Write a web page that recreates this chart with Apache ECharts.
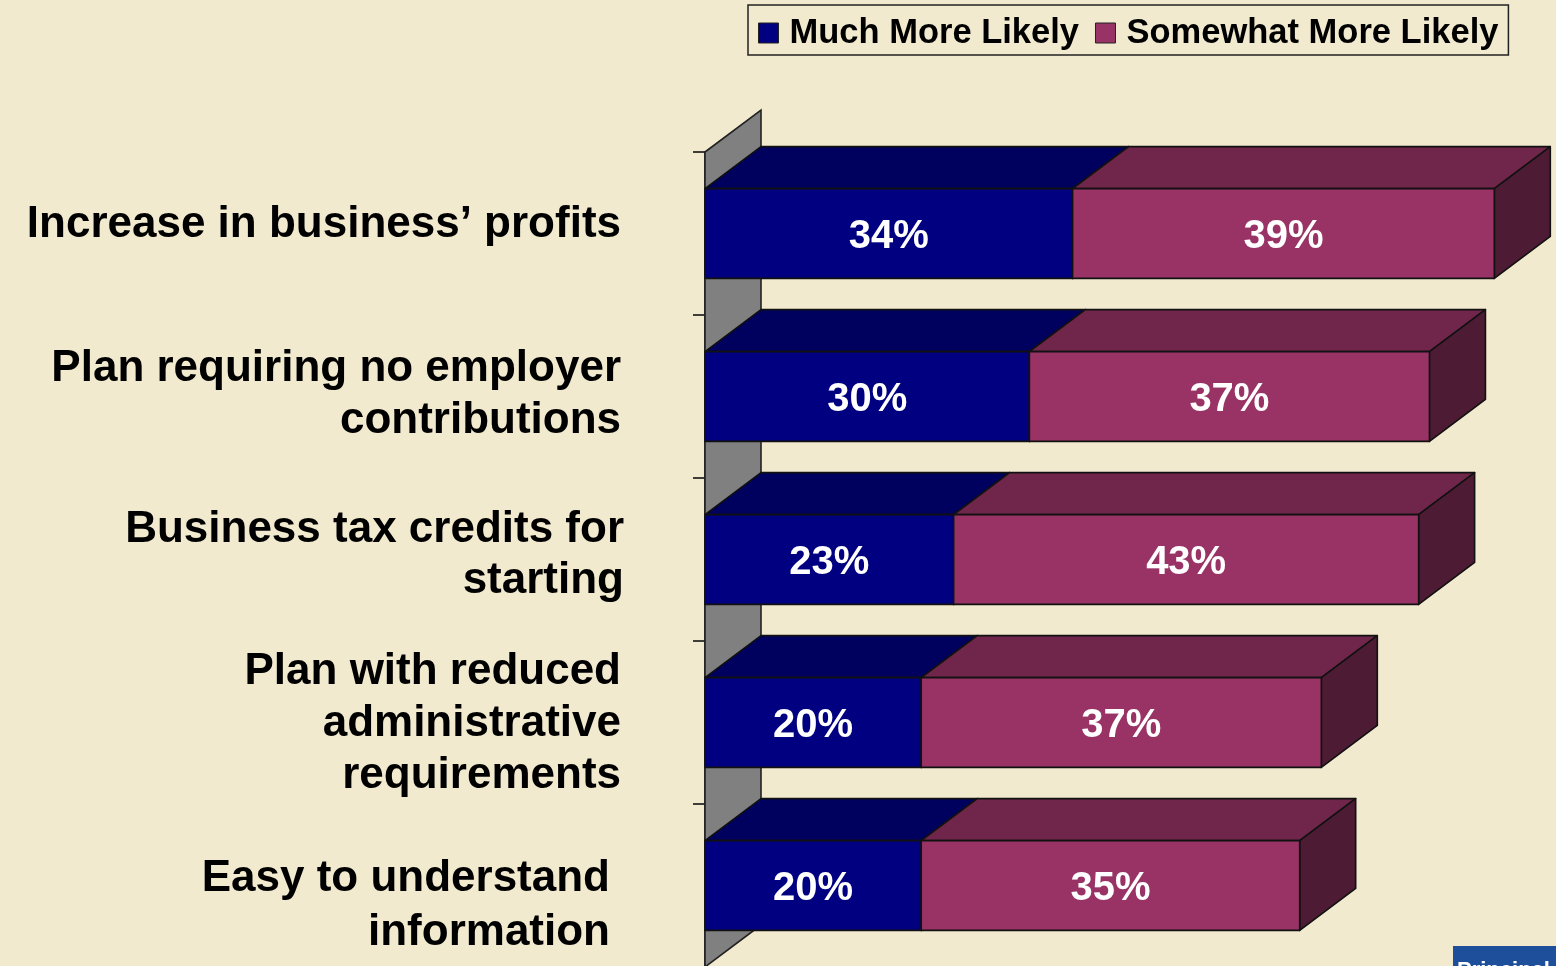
<!DOCTYPE html>
<html>
<head>
<meta charset="utf-8">
<title>Likelihood of offering a plan</title>
<script src="https://cdn.jsdelivr.net/npm/echarts@6/dist/echarts.min.js"></script>
<style>
  html, body { margin: 0; padding: 0; background: #f2eacf; }
  #chart { width: 1556px; height: 966px; }
</style>
</head>
<body>
<div id="chart"></div>
<script>
// Categories, top to bottom
const categories = [
  'Increase in business\u2019 profits',
  'Plan requiring no employer\ncontributions',
  'Business tax credits for\nstarting',
  'Plan with reduced\nadministrative\nrequirements',
  'Easy to understand\ninformation'
];
const seriesNames = ['Much More Likely', 'Somewhat More Likely'];
// Percent values per category
const muchMoreLikely = [34, 30, 23, 20, 20];
const somewhatMoreLikely = [39, 37, 43, 37, 35];

const FONT = '"Liberation Sans", Arial, sans-serif';
const DEPTH_X = 56, DEPTH_Y = 42;
const BAR_RATIO = 0.551;
const LABEL_GAP = 81;

const palette = [
  { front: '#000080', top: '#00005e', side: '#00004a' },
  { front: '#993366', top: '#70264b', side: '#4e1b34' }
];

// text block nudges for the category captions (vertical shift, right inset, line height)
const labelTweaks = [
  { dy: -9, inset: 3, lh: 52 },
  { dy: -2, inset: 3, lh: 52 },
  { dy: -4, inset: 0, lh: 51 },
  { dy: 1, inset: 3, lh: 52 },
  { dy: 20, inset: 14, lh: 54 }
];

function stackData(values, base) {
  return values.map((v, i) => [base ? base[i] : 0, (base ? base[i] : 0) + v, i, v]);
}

const stroke = { stroke: '#111', lineWidth: 1.6, lineJoin: 'round' };

function makeBarRender(colors) {
  return function (params, api) {
    const cat = api.value(2);
    const a = api.coord([api.value(0), cat]);
    const b = api.coord([api.value(1), cat]);
    const band = api.size([0, 1])[1];
    const h = band * BAR_RATIO;
    const x0 = a[0], x1 = b[0];
    const top = a[1] - h / 2;
    return {
      type: 'group',
      children: [
        {
          type: 'polygon',
          shape: { points: [[x0, top], [x0 + DEPTH_X, top - DEPTH_Y], [x1 + DEPTH_X, top - DEPTH_Y], [x1, top]] },
          style: Object.assign({ fill: colors.top }, stroke)
        },
        {
          type: 'polygon',
          shape: { points: [[x1, top], [x1 + DEPTH_X, top - DEPTH_Y], [x1 + DEPTH_X, top - DEPTH_Y + h], [x1, top + h]] },
          style: Object.assign({ fill: colors.side }, stroke)
        },
        {
          type: 'rect',
          shape: { x: x0, y: top, width: x1 - x0, height: h },
          style: Object.assign({ fill: colors.front }, stroke)
        },
        {
          type: 'text',
          style: {
            text: api.value(3) + '%',
            x: (x0 + x1) / 2,
            y: a[1] + 3,
            align: 'center',
            verticalAlign: 'middle',
            fill: '#ffffff',
            font: 'bold 40px ' + FONT
          }
        }
      ]
    };
  };
}

// gray side wall running along the category axis
function renderWall(params, api) {
  const band = api.size([0, 1])[1];
  const first = api.coord([0, 0]);
  const last = api.coord([0, categories.length - 1]);
  const x = first[0];
  const yTop = first[1] - band / 2;
  const yBot = last[1] + band / 2;
  return {
    type: 'polygon',
    shape: { points: [[x, yTop], [x + DEPTH_X, yTop - DEPTH_Y], [x + DEPTH_X, yBot - DEPTH_Y], [x, yBot]] },
    style: { fill: '#808080', stroke: '#222', lineWidth: 1.6 }
  };
}

// category captions placed at each band of the category axis
function renderCaption(params, api) {
  const i = api.value(1);
  const p = api.coord([0, i]);
  const t = labelTweaks[i];
  return {
    type: 'text',
    style: {
      text: categories[i],
      x: p[0] - LABEL_GAP - t.inset,
      y: p[1] + t.dy,
      align: 'right',
      verticalAlign: 'middle',
      lineHeight: t.lh,
      fill: '#000000',
      font: 'bold 44px ' + FONT
    }
  };
}

const chart = echarts.init(document.getElementById('chart'), null, { renderer: 'canvas' });
chart.setOption({
  backgroundColor: '#f2eacf',
  animation: false,
  legend: {
    data: seriesNames,
    left: 748,
    top: 5,
    padding: [10, 10, 4, 10],
    borderColor: '#222',
    borderWidth: 1.5,
    backgroundColor: '#f2eacf',
    itemWidth: 20,
    itemHeight: 20,
    itemGap: 16,
    icon: 'rect',
    itemStyle: { borderColor: '#222', borderWidth: 1 },
    textStyle: { fontFamily: FONT, fontWeight: 'bold', fontSize: 34.5, color: '#000', padding: [0, 0, 0, 6], lineHeight: 36 }
  },
  grid: { left: 705, top: 152, right: -14, height: 815, containLabel: false, outerBoundsMode: 'none' },
  xAxis: { type: 'value', min: 0, max: 80, show: false },
  yAxis: {
    type: 'category',
    inverse: true,
    data: categories,
    axisLine: { show: true, lineStyle: { color: '#111', width: 1.6 } },
    axisTick: { show: true, length: 12, lineStyle: { color: '#111', width: 1.6 } },
    axisLabel: { show: false },
    splitLine: { show: false }
  },
  series: [
    {
      type: 'custom',
      name: 'captions',
      silent: true,
      clip: false,
      renderItem: renderCaption,
      data: categories.map((c, i) => [0, i]),
      encode: { x: 0, y: 1 },
      z: 1
    },
    {
      type: 'custom',
      name: 'wall',
      silent: true,
      clip: false,
      renderItem: renderWall,
      data: [[0, 0]],
      encode: { x: 0, y: 1 },
      z: 1
    },
    {
      type: 'custom',
      name: seriesNames[0],
      clip: false,
      itemStyle: { color: palette[0].front, borderColor: '#222' },
      renderItem: makeBarRender(palette[0]),
      data: stackData(muchMoreLikely),
      encode: { x: [0, 1], y: 2 },
      z: 2
    },
    {
      type: 'custom',
      name: seriesNames[1],
      clip: false,
      itemStyle: { color: palette[1].front, borderColor: '#222' },
      renderItem: makeBarRender(palette[1]),
      data: stackData(somewhatMoreLikely, muchMoreLikely),
      encode: { x: [0, 1], y: 2 },
      z: 3
    }
  ],
  graphic: [
    {
      type: 'group',
      left: 1453,
      top: 946,
      children: [
        { type: 'rect', shape: { x: 0, y: 0, width: 110, height: 30 }, style: { fill: '#1d4f9b' } },
        { type: 'text', style: { text: 'Principal', x: 4, y: 14, fill: '#ffffff', font: 'bold 22px ' + FONT } }
      ]
    }
  ]
});
</script>
</body>
</html>
